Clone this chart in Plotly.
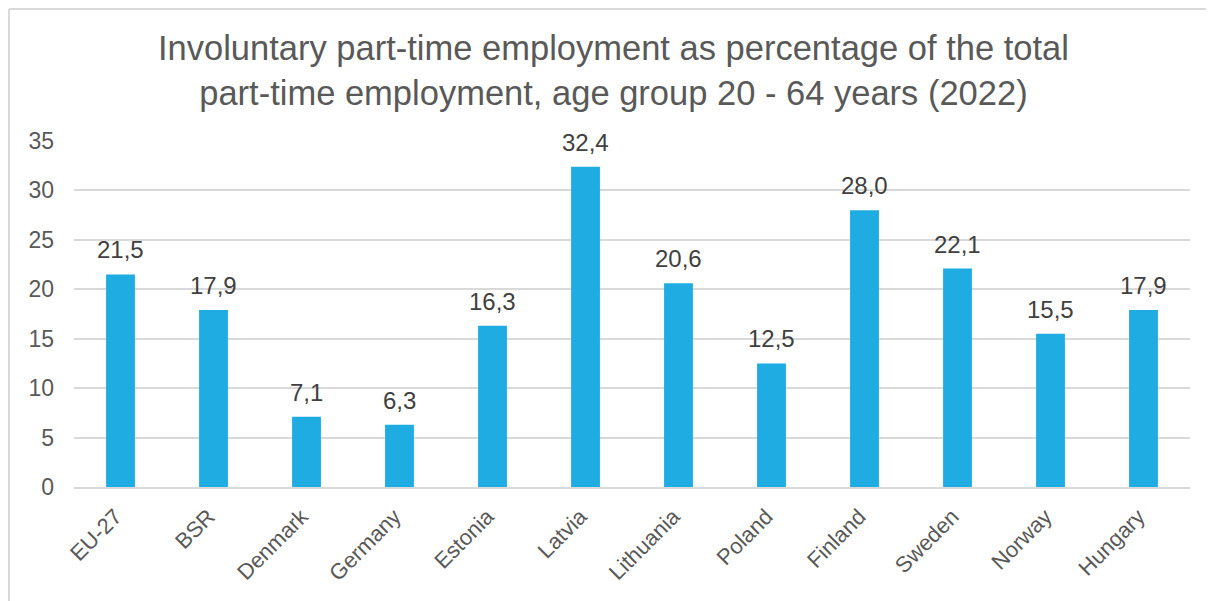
import plotly.graph_objects as go

categories = ["EU-27", "BSR", "Denmark", "Germany", "Estonia", "Latvia",
              "Lithuania", "Poland", "Finland", "Sweden", "Norway", "Hungary"]
values = [21.5, 17.9, 7.1, 6.3, 16.3, 32.4, 20.6, 12.5, 28.0, 22.1, 15.5, 17.9]
y_ticks = [0, 5, 10, 15, 20, 25, 30, 35]

title_text = ("Involuntary part-time employment as percentage of the total<br>"
              "part-time employment, age group 20 - 64 years (2022)")

# page is offset by the 8px default body margin
OFF = 8
W, H = 1214, 601
L, T = 74 - OFF, 141 - OFF
pw, ph = 1116, 346
R = W - L - pw
B = H - T - ph

def px_to_paper_x(px):
    return (px - OFF - L) / pw

def px_to_paper_y(py):
    return (T + ph - (py - OFF)) / ph

gray = "#595959"
font_family = "Liberation Sans, Arial, sans-serif"

fig = go.Figure(go.Bar(
    x=categories, y=values,
    marker=dict(color="#1EACE3", line=dict(width=0)),
    hoverinfo="x+y",
))

for c, v in zip(categories, values):
    fig.add_annotation(
        x=c, y=v, xref="x", yref="y",
        text=f"{v:.1f}".replace(".", ","),
        showarrow=False, xanchor="center", yanchor="bottom", yshift=9,
        font=dict(size=24, color="#404040", family=font_family),
    )

fig.update_layout(
    width=W, height=H,
    margin=dict(l=L, r=R, t=T, b=B),
    paper_bgcolor="white", plot_bgcolor="white",
    separators=", ",
    bargap=0.69,
    showlegend=False,
    font=dict(family=font_family, color=gray),
    xaxis=dict(tickangle=-45, tickfont=dict(size=22, color=gray),
               showgrid=False, showline=True, linecolor="#D9D9D9", linewidth=2,
               ticks="", ticklabelstandoff=6, ticklabelshift=-5),
    yaxis=dict(range=[0, 35], tickvals=y_ticks, tickfont=dict(size=23, color=gray),
               showgrid=True, gridcolor="#D9D9D9", gridwidth=2,
               zeroline=False, showline=False, ticks="", ticklabelstandoff=19),
    shapes=[
        dict(type="line", xref="paper", yref="paper",
             x0=px_to_paper_x(9), x1=px_to_paper_x(1214),
             y0=px_to_paper_y(9), y1=px_to_paper_y(9),
             line=dict(color="#D9D9D9", width=2)),
        dict(type="line", xref="paper", yref="paper",
             x0=px_to_paper_x(9), x1=px_to_paper_x(9),
             y0=px_to_paper_y(9), y1=px_to_paper_y(601),
             line=dict(color="#D9D9D9", width=2)),
    ],
)

fig.add_annotation(
    text=title_text, xref="paper", yref="paper",
    x=px_to_paper_x(613), y=px_to_paper_y(70),
    xanchor="center", yanchor="middle", showarrow=False,
    font=dict(size=34.5, color=gray, family=font_family),
)

fig.write_html("out.html")
